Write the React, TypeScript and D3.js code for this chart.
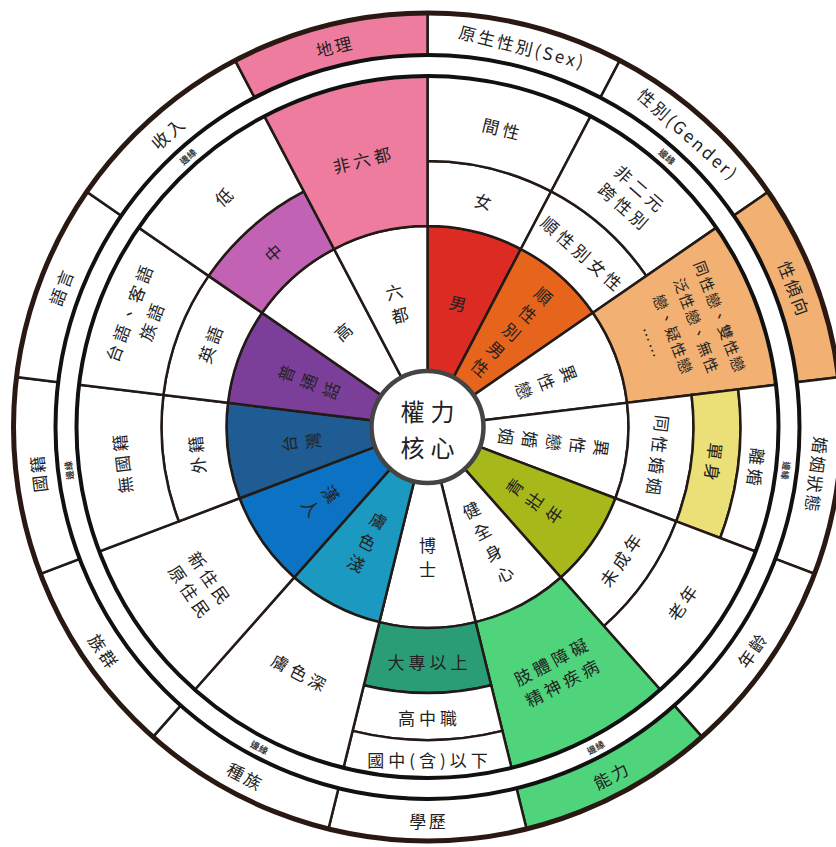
import React from "react";
import * as d3 from "d3";

// categories clockwise from 12 o'clock
const categories = [
  "原生性別(Sex)", "性別(Gender)", "性傾向", "婚姻狀態", "年齡", "能力", "學歷",
  "種族", "族群", "國籍", "語言", "收入", "地理",
];

// band labels from the centre outwards ("\n" = next line)
const bandLabels: string[][] = [
  ["男", "女", "間性"],
  ["順\n性\n別\n男\n性", "順性別女性", "非二元\n跨性別"],
  ["異\n性\n戀", "同性戀、雙性戀\n泛性戀、無性\n戀、疑性戀\n……"],
  ["異\n性\n戀\n婚\n姻", "同性婚姻", "單身", "離婚"],
  ["青\n壯\n年", "未成年", "老年"],
  ["健\n全\n身\n心", "肢體障礙\n精神疾病"],
  ["博\n士", "大專以上", "高中職", "國中(含)以下"],
  ["膚\n色\n淺", "膚色深"],
  ["漢\n人", "新住民\n原住民"],
  ["台\n灣", "外籍", "無國籍"],
  ["普\n通\n話", "英語", "台語、客語\n族語"],
  ["高", "中", "低"],
  ["六\n都", "非六都"],
];

// how many ring steps each band covers
const bandSpans: number[][] = [
  [1, 1, 2], [1, 1, 2], [1, 3], [1, 1, 1, 1], [1, 1, 2], [1, 3], [1, 1, 1, 1],
  [1, 3], [1, 3], [1, 1, 2], [1, 1, 2], [1, 1, 2], [1, 3],
];

// which band is coloured in each category
const highlightBand = [0, 0, 1, 2, 0, 1, 1, 0, 0, 0, 0, 1, 1];
const highlightColor = [
  "#dc2b22", "#e6641c", "#f2b173", "#ebdf78", "#a7b81b", "#4fd47b", "#2a9d77",
  "#1b99c0", "#0b72c4", "#1f5c93", "#7b3f99", "#c262b4", "#ee7c9f",
];
const outerColored = ["性傾向", "能力", "地理"];
const marginMarks = ["性別(Gender)", "婚姻狀態", "能力", "種族", "國籍", "收入"];

const W = 836;
const H = 847;
const cx = 427.5;
const cy = 427;
const FONT = "'Noto Sans CJK TC', 'Noto Sans', sans-serif";
const LINE = "#221a16";

const angle = d3.scaleBand<string>().domain(categories).range([0, 2 * Math.PI]);
const ring = d3.scaleLinear().domain([0, 1, 2, 3, 4]).range([56, 201, 266, 313, 351]);
const marginIn = 351;
const marginOut = 372;
const outerR = 414;

const arc = d3.arc<any>();

function Label(props: {text: string; r: number; a: number; size: number; spacing: number; lh: number; weight?: number; fill?: string}) {
  const {text, r, a, size, spacing, lh} = props;
  const deg = (a * 180) / Math.PI;
  const flip = deg > 100 && deg < 260;
  const rot = flip ? deg - 180 : deg;
  const x = r * Math.sin(a);
  const y = -r * Math.cos(a);
  const lines = text.split("\n");
  return (
    <g transform={`translate(${x},${y}) rotate(${rot})`}>
      <text
        textAnchor="middle"
        dominantBaseline="central"
        fontFamily={FONT}
        fontSize={size}
        fontWeight={props.weight || 400}
        letterSpacing={spacing}
        fill={props.fill || "#222"}
      >
        {lines.map((l, i) => (
          <tspan key={i} x={spacing / 2} y={(i - (lines.length - 1) / 2) * lh}>
            {l}
          </tspan>
        ))}
      </text>
    </g>
  );
}

const App = () => {
  const bw = angle.bandwidth();
  return (
    <svg width={W} height={H} style={{position: "absolute", left: 0, top: 0, background: "#fff"}}>
      <g transform={`translate(${cx},${cy})`}>
        {/* outer ring */}
        {categories.map((c) => {
          const a0 = angle(c) as number;
          return (
            <path
              key={"o" + c}
              d={arc({innerRadius: marginOut, outerRadius: outerR, startAngle: a0, endAngle: a0 + bw}) as string}
              fill={outerColored.includes(c) ? highlightColor[categories.indexOf(c)] : "#fff"}
              stroke={LINE}
              strokeWidth={2.5}
            />
          );
        })}
        {/* inner bands */}
        {categories.map((c, ci) => {
          const a0 = angle(c) as number;
          let lv = 0;
          return bandSpans[ci].map((s, bi) => {
            const r0 = ring(lv);
            const r1 = ring(lv + s);
            lv += s;
            return (
              <path
                key={c + bi}
                d={arc({innerRadius: r0, outerRadius: r1, startAngle: a0, endAngle: a0 + bw}) as string}
                fill={highlightBand[ci] === bi ? highlightColor[ci] : "#fff"}
                stroke={LINE}
                strokeWidth={2.5}
              />
            );
          });
        })}
        {/* margin ring */}
        <circle r={marginIn} fill="none" stroke="#111" strokeWidth={4} />
        <circle r={marginOut} fill="none" stroke="#111" strokeWidth={4} />
        <circle r={outerR} fill="none" stroke="#2a1812" strokeWidth={5} />
        {/* centre */}
        <circle r={ring(0)} fill="#fff" stroke="#444" strokeWidth={4.5} />
        <text textAnchor="middle" dominantBaseline="central" fontFamily={FONT} fontSize={24} letterSpacing={6} fill="#222">
          <tspan x={3} y={-17}>權力</tspan>
          <tspan x={3} y={19}>核心</tspan>
        </text>
        {/* band labels */}
        {categories.map((c, ci) => {
          const am = (angle(c) as number) + bw / 2;
          let lv = 0;
          return bandSpans[ci].map((s, bi) => {
            const rm = (ring(lv) + ring(lv + s)) / 2;
            lv += s;
            const t = bandLabels[ci][bi];
            const small = t.split("\n").length > 3 && t.length > 12;
            return (
              <Label
                key={"l" + c + bi}
                text={t}
                r={rm}
                a={am}
                size={small ? 15 : 17}
                spacing={small ? 2 : 4}
                lh={small ? 25 : 24}
              />
            );
          });
        })}
        {/* outer labels */}
        {categories.map((c) => (
          <Label key={"ol" + c} text={c} r={(marginOut + outerR) / 2} a={(angle(c) as number) + bw / 2} size={17} spacing={2.5} lh={20} />
        ))}
        {/* margin marks */}
        {marginMarks.map((c) => (
          <Label key={"m" + c} text="邊緣" r={(marginIn + marginOut) / 2} a={(angle(c) as number) + bw / 2} size={9} spacing={0.5} lh={10} weight={700} fill="#333" />
        ))}
      </g>
    </svg>
  );
};

export default App;
